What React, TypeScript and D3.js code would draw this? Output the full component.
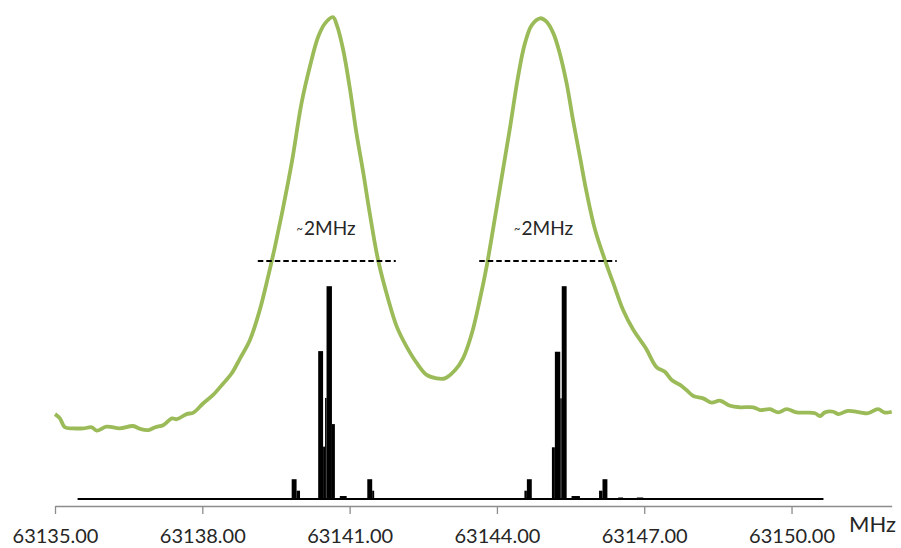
import React, { useEffect, useRef } from 'react';
import * as d3 from 'd3';

// green envelope: frequency (MHz) and intensity (arb.)
const envFreq = [
  63135.0, 63135.1, 63135.2, 63135.37, 63135.58, 63135.75, 63135.85, 63136.05, 63136.32,
  63136.59, 63136.73, 63136.9, 63137.04, 63137.21, 63137.38, 63137.48, 63137.68, 63137.82,
  63138.02, 63138.22, 63138.43, 63138.6, 63138.77, 63138.97, 63139.17, 63139.34, 63139.48,
  63139.65, 63139.82, 63140.02, 63140.19, 63140.36, 63140.5, 63140.66, 63140.74, 63140.87,
  63141.01, 63141.14, 63141.28, 63141.41, 63141.58, 63141.79, 63141.96, 63142.16, 63142.37,
  63142.57, 63142.77, 63142.94, 63143.15, 63143.31, 63143.49, 63143.65, 63143.79, 63143.93,
  63144.1, 63144.27, 63144.43, 63144.57, 63144.71, 63144.88, 63145.01, 63145.15, 63145.28,
  63145.42, 63145.55, 63145.69, 63145.83, 63146.0, 63146.2, 63146.37, 63146.57, 63146.78,
  63147.03, 63147.25, 63147.42, 63147.56, 63147.73, 63147.86, 63148.0, 63148.2, 63148.37,
  63148.54, 63148.75, 63148.95, 63149.22, 63149.36, 63149.56, 63149.73, 63149.9, 63150.1,
  63150.31, 63150.48, 63150.58, 63150.68, 63150.85, 63150.95, 63151.15, 63151.39, 63151.56,
  63151.76, 63151.9, 63152.04,
];
const envValue = [
  0.399, 0.379, 0.337, 0.332, 0.332, 0.337, 0.321, 0.34, 0.332,
  0.343, 0.33, 0.324, 0.337, 0.348, 0.379, 0.375, 0.399, 0.406,
  0.45, 0.489, 0.544, 0.591, 0.661, 0.747, 0.888, 1.045, 1.186,
  1.374, 1.578, 1.859, 2.031, 2.172, 2.235, 2.264, 2.227, 2.11,
  1.922, 1.718, 1.531, 1.343, 1.123, 0.935, 0.81, 0.716, 0.638,
  0.583, 0.567, 0.567, 0.606, 0.661, 0.779, 0.935, 1.092, 1.28,
  1.515, 1.75, 1.984, 2.141, 2.227, 2.259, 2.243, 2.188, 2.094,
  1.953, 1.781, 1.609, 1.437, 1.264, 1.123, 1.014, 0.888, 0.794,
  0.71, 0.62, 0.598, 0.559, 0.536, 0.512, 0.484, 0.473, 0.453,
  0.462, 0.438, 0.431, 0.431, 0.418, 0.422, 0.407, 0.422, 0.407,
  0.406, 0.403, 0.39, 0.407, 0.41, 0.399, 0.414, 0.407, 0.403,
  0.422, 0.406, 0.41,
];

// black stick spectrum: [start MHz, end MHz, intensity]
const lineStart = [
  63139.82, 63139.92, 63140.36, 63140.46, 63140.5, 63140.53, 63140.64, 63140.8, 63141.36, 63141.46,
  63144.56, 63144.61, 63145.12, 63145.18, 63145.29, 63145.32, 63145.52, 63146.08, 63146.15, 63146.47, 63146.85,
];
const lineEnd = [
  63139.92, 63139.99, 63140.46, 63140.5, 63140.53, 63140.64, 63140.7, 63140.94, 63141.46, 63141.5,
  63144.61, 63144.71, 63145.18, 63145.29, 63145.32, 63145.42, 63145.69, 63146.15, 63146.25, 63146.57, 63146.98,
];
const lineValue = [
  0.093, 0.039, 0.695, 0.246, 0.475, 1.0, 0.352, 0.014, 0.093, 0.039,
  0.039, 0.093, 0.243, 0.692, 0.473, 1.0, 0.014, 0.039, 0.093, 0.007, 0.007,
];
const spectrumRange = [63135.46, 63150.65];

const tickValues = [63135, 63138, 63141, 63144, 63147, 63150];
const axisRange = [63135, 63152.04];

// FWHM markers
const fwhmFrom = [63139.13, 63143.64];
const fwhmTo = [63141.94, 63146.44];
const fwhmLevel = 1.118;
const fwhmLabelAt = [63139.92, 63144.35];
const fwhmLabelLevel = 1.241;

const W = 901;
const H = 548;
const FONT = 'Lato, "Open Sans", sans-serif';

export default function App() {
  const axisRef = useRef<SVGGElement>(null);

  const x = d3.scaleLinear().domain(axisRange).range([55, 891.7]);
  const y = d3.scaleLinear().domain([0, 1]).range([499, 286.2]);

  const envLine = d3
    .line<number>()
    .x((d, i) => x(envFreq[i]))
    .y((d) => y(d))
    .curve(d3.curveCatmullRom.alpha(0.5));

  useEffect(() => {
    const g = d3.select(axisRef.current);
    g.selectAll('*').remove();
    g.call(
      d3
        .axisBottom(x)
        .tickValues(tickValues)
        .tickFormat(d3.format('.2f'))
        .tickSize(8)
        .tickSizeOuter(0),
    );
    g.select('.domain').attr('stroke', '#8c8c8c').attr('stroke-width', 1.3);
    g.selectAll('.tick line').attr('stroke', '#8c8c8c').attr('stroke-width', 1.3);
    g.selectAll('.tick text')
      .attr('y', 37)
      .attr('dy', 0)
      .attr('fill', '#262626')
      .style('font-family', FONT)
      .style('font-size', '20px');
  }, []);

  return (
    <svg
      width={W}
      height={H}
      style={{ position: 'absolute', left: 0, top: 0, background: '#fff' }}
    >
      <rect width={W} height={H} fill="#fff" />
      {/* stick spectrum */}
      {lineValue.map((v, i) => (
        <rect
          key={i}
          x={x(lineStart[i])}
          width={x(lineEnd[i]) - x(lineStart[i])}
          y={y(v)}
          height={y(0) - y(v)}
          fill="#000"
        />
      ))}
      <line
        x1={x(spectrumRange[0])}
        x2={x(spectrumRange[1])}
        y1={y(0)}
        y2={y(0)}
        stroke="#000"
        strokeWidth={1.8}
      />
      {/* envelope */}
      <path
        d={envLine(envValue) || ''}
        fill="none"
        stroke="#9bbb59"
        strokeWidth={3.8}
        strokeLinejoin="round"
      />
      {/* FWHM markers */}
      {fwhmFrom.map((f, i) => (
        <g key={i}>
          <line
            x1={x(f)}
            x2={x(fwhmTo[i])}
            y1={y(fwhmLevel)}
            y2={y(fwhmLevel)}
            stroke="#000"
            strokeWidth={2}
            strokeDasharray="5.5,3"
          />
          <text
            x={x(fwhmLabelAt[i])}
            y={y(fwhmLabelLevel)}
            fill="#262626"
            style={{ fontFamily: FONT, fontSize: 19 }}
          >
            <tspan style={{ fontSize: 11 }} dy={-2}>~</tspan>
            <tspan dy={2} dx={1}>2MHz</tspan>
          </text>
        </g>
      ))}
      <g ref={axisRef} transform={`translate(0,${506})`} />
      <text x={849} y={531.7} fill="#262626" style={{ fontFamily: FONT, fontSize: 22 }}>
        MHz
      </text>
    </svg>
  );
}
